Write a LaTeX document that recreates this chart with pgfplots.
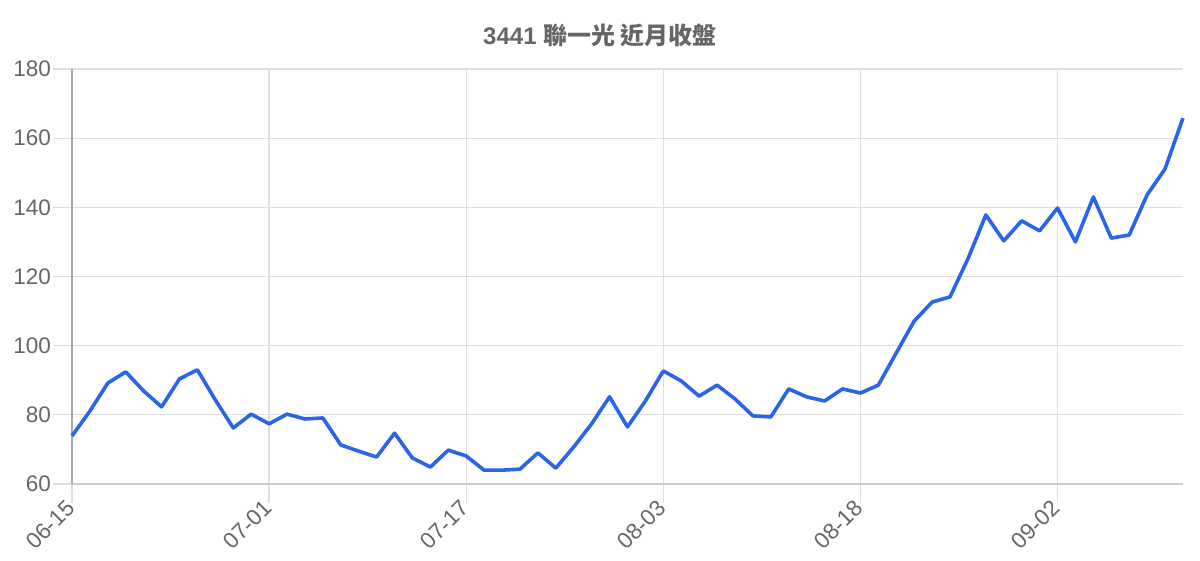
\documentclass[border=0pt]{standalone}
\usepackage{fontspec}
\setmainfont{Liberation Sans}
\newfontfamily\cjk{Noto Sans CJK TC}
\usepackage{pgfplots}
\pgfplotsset{compat=1.18}
\definecolor{lineblue}{RGB}{41,101,232}
\definecolor{txtgray}{RGB}{102,102,102}
\definecolor{gridgray}{RGB}{222,222,222}
\definecolor{ygray}{RGB}{170,170,170}
\definecolor{xgray}{RGB}{205,205,205}

\begin{document}
\begin{tikzpicture}
\begin{axis}[
name=ax,
scale only axis,
width=1111pt, height=415pt,
xmin=0, xmax=62, ymin=60, ymax=180,
ytick={60,80,...,180},
xtick={0,11,22,33,44,55},
xticklabels={06-15,07-01,07-17,08-03,08-18,09-02},
axis x line*=bottom, axis y line*=left,
x axis line style={-, draw=xgray, line width=1.3pt},
y axis line style={-, draw=ygray, line width=1.3pt},
grid=major,
major grid style={draw=gridgray, line width=1.3pt},
tick align=outside,
major tick length=19pt,
tick style={draw=gridgray, line width=1.3pt},
ticklabel style={font=\fontsize{22.5}{26}\selectfont, text=txtgray},
xticklabel style={rotate=45, anchor=east, inner sep=2pt},
yticklabel style={inner sep=2pt},
/pgf/number format/assume math mode=true,
clip=false,
]
\addplot[lineblue, line width=3.6pt, line join=round] coordinates {
(0,73.9) (1,81.1) (2,89.2) (3,92.4) (4,86.9) (5,82.3) (6,90.4) (7,93.0)
(8,84.3) (9,76.2) (10,80.2) (11,77.4) (12,80.2) (13,78.8) (14,79.1)
(15,71.3) (16,69.5) (17,67.8) (18,74.7) (19,67.5) (20,64.9) (21,69.8)
(22,68.1) (23,64.0) (24,64.0) (25,64.3) (26,69.0) (27,64.6) (28,70.7)
(29,77.4) (30,85.2) (31,76.5) (32,84.0) (33,92.7) (34,89.8) (35,85.4)
(36,88.6) (37,84.6) (38,79.7) (39,79.4) (40,87.5) (41,85.2) (42,84.0)
(43,87.5) (44,86.3) (45,88.6) (46,97.9) (47,107.1) (48,112.6) (49,114.1)
(50,125.1) (51,137.8) (52,130.3) (53,136.1) (54,133.2) (55,139.8)
(56,130.0) (57,143.0) (58,131.1) (59,132.0) (60,143.6) (61,151.1)
(62,165.8)
};
\end{axis}
\node[text=txtgray, font=\fontsize{24}{28}\selectfont\bfseries, anchor=center]
  at ([shift={(528pt,449pt)}]ax.south west) {3441 {\cjk\bfseries 聯一光 近月收盤}};
\pgfresetboundingbox
\path ([shift={(-72pt,-76pt)}]ax.south west) rectangle ++(1200pt,560pt);
\end{tikzpicture}
\end{document}
